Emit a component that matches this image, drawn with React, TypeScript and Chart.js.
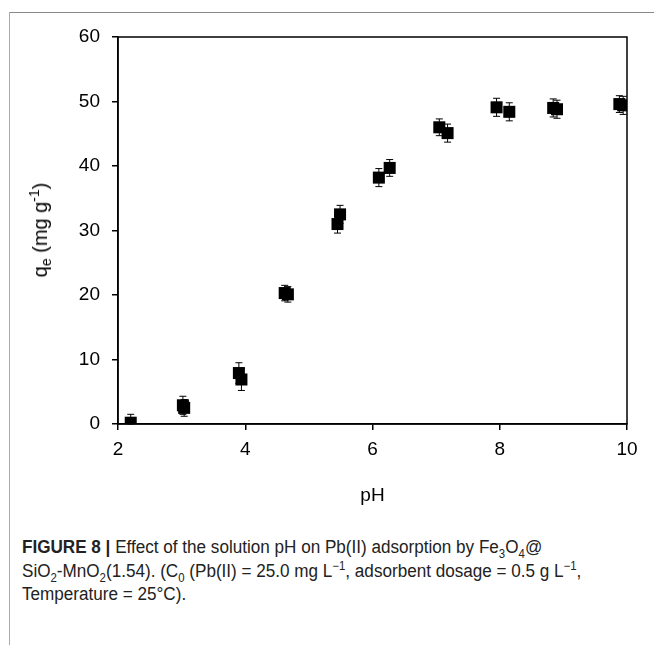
import React, { useEffect, useRef } from "react";
import { Chart, registerables } from "chart.js";

Chart.register(...registerables);

const phValues = [2.2, 3.02, 3.04, 3.9, 3.94, 4.62, 4.67, 5.45, 5.49, 6.1, 6.27, 7.05, 7.18, 7.95, 8.15, 8.84, 8.9, 9.88, 9.94];
const qeValues = [0.2, 2.9, 2.5, 7.9, 6.9, 20.3, 20.1, 31.0, 32.5, 38.2, 39.7, 46.0, 45.1, 49.1, 48.4, 49.0, 48.8, 49.6, 49.4];
const qeErrors = [1.3, 1.4, 1.3, 1.6, 1.7, 1.2, 1.2, 1.4, 1.4, 1.4, 1.3, 1.3, 1.4, 1.4, 1.4, 1.4, 1.4, 1.3, 1.4];
const xTickValues = [2, 4, 6, 8, 10];
const yTickValues = [0, 10, 20, 30, 40, 50, 60];

const FONT = "'Liberation Sans', Arial, Helvetica, sans-serif";

const errorBarPlugin = {
  id: "errorBars",
  beforeDatasetsDraw(chart: any) {
    const ctx = chart.ctx;
    const xs = chart.scales.x;
    const ys = chart.scales.y;
    ctx.save();
    ctx.strokeStyle = "#000";
    ctx.lineWidth = 1;
    for (let i = 0; i < phValues.length; i++) {
      const px = xs.getPixelForValue(phValues[i]);
      const top = ys.getPixelForValue(qeValues[i] + qeErrors[i]);
      const bot = ys.getPixelForValue(Math.max(qeValues[i] - qeErrors[i], 0));
      ctx.beginPath();
      ctx.moveTo(px, top);
      ctx.lineTo(px, bot);
      ctx.moveTo(px - 3.5, top);
      ctx.lineTo(px + 3.5, top);
      ctx.moveTo(px - 3.5, bot);
      ctx.lineTo(px + 3.5, bot);
      ctx.stroke();
    }
    ctx.restore();
  },
};

const framePlugin = {
  id: "frame",
  afterDraw(chart: any) {
    const { left, right, top, bottom } = chart.chartArea;
    const ctx = chart.ctx;
    ctx.save();
    ctx.strokeStyle = "#000";
    ctx.lineWidth = 1.5;
    ctx.strokeRect(left, top, right - left, bottom - top);
    ctx.restore();
  },
};

const subStyle: React.CSSProperties = { fontSize: 12, lineHeight: 0 };

export default function App() {
  const canvasRef = useRef<HTMLCanvasElement | null>(null);

  useEffect(() => {
    document.body.style.margin = "0";
    const canvas = canvasRef.current;
    if (!canvas) return;
    const chart = new Chart(canvas, {
      type: "scatter",
      data: {
        datasets: [
          {
            data: phValues.map((x, i) => ({ x, y: qeValues[i] })),
            pointStyle: "rect",
            pointRadius: 8.5,
            pointHoverRadius: 8.5,
            backgroundColor: "#000",
            borderColor: "#000",
            borderWidth: 0,
          },
        ],
      },
      options: {
        animation: false,
        responsive: false,
        maintainAspectRatio: false,
        events: [],
        layout: { padding: { top: 37, right: 27, left: 0, bottom: 0 } },
        plugins: { legend: { display: false }, tooltip: { enabled: false } },
        scales: {
          x: {
            type: "linear",
            min: 2,
            max: 10,
            afterBuildTicks: (scale: any) => {
              scale.ticks = xTickValues.map((v) => ({ value: v }));
            },
            afterFit: (scale: any) => {
              scale.height = 96;
            },
            grid: { drawOnChartArea: false, drawTicks: true, tickLength: 6, color: "#000", lineWidth: 1.5 },
            border: { display: true, color: "#000", width: 1.5 },
            ticks: { color: "#000", font: { family: FONT, size: 19 }, padding: 8, maxRotation: 0 },
            title: {
              display: true,
              text: "pH",
              color: "#000",
              font: { family: FONT, size: 19 },
              padding: { top: 0, bottom: 13 },
            },
          },
          y: {
            type: "linear",
            min: 0,
            max: 60,
            afterBuildTicks: (scale: any) => {
              scale.ticks = yTickValues.map((v) => ({ value: v }));
            },
            afterFit: (scale: any) => {
              scale.width = 118;
            },
            grid: { drawOnChartArea: false, drawTicks: true, tickLength: 6, color: "#000", lineWidth: 1.5 },
            border: { display: true, color: "#000", width: 1.5 },
            ticks: { color: "#000", font: { family: FONT, size: 19 }, padding: 12 },
          },
        },
      },
      plugins: [errorBarPlugin, framePlugin],
    });
    return () => chart.destroy();
  }, []);

  return (
    <div style={{ position: "relative", width: 654, height: 645, background: "#fff", overflow: "hidden" }}>
      <div style={{ position: "absolute", left: 9, top: 12, width: 645, height: 1, background: "#888" }} />
      <div style={{ position: "absolute", left: 9, top: 12, width: 1, height: 633, background: "#aaa" }} />
      <canvas ref={canvasRef} width={654} height={520} style={{ position: "absolute", left: 0, top: 0 }} />
      <div
        style={{
          position: "absolute",
          left: 40,
          top: 230,
          transform: "translate(-50%, -50%) rotate(-90deg)",
          whiteSpace: "nowrap",
          fontFamily: FONT,
          fontSize: 20,
          color: "#000",
          lineHeight: 1,
        }}
      >
        q<sub style={{ fontSize: 14, verticalAlign: "-4px" }}>e</sub> (mg g<sup style={{ fontSize: 14, verticalAlign: "8px" }}>-1</sup>)
      </div>
      <div
        style={{
          position: "absolute",
          left: 22,
          top: 536,
          transform: "scaleX(0.95)",
          transformOrigin: "0 0",
          fontFamily: FONT,
          fontSize: 18,
          lineHeight: "23.5px",
          color: "#222",
          whiteSpace: "nowrap",
        }}
      >
        <div>
          <b>FIGURE 8 |</b> Effect of the solution pH on Pb(II) adsorption by Fe<sub style={subStyle}>3</sub>O<sub style={subStyle}>4</sub>@
        </div>
        <div>
          SiO<sub style={subStyle}>2</sub>-MnO<sub style={subStyle}>2</sub>(1.54). (C<sub style={subStyle}>0</sub> (Pb(II) = 25.0 mg L<sup style={subStyle}>−1</sup>, adsorbent dosage = 0.5 g L<sup style={subStyle}>−1</sup>,
        </div>
        <div>Temperature = 25°C).</div>
      </div>
    </div>
  );
}
